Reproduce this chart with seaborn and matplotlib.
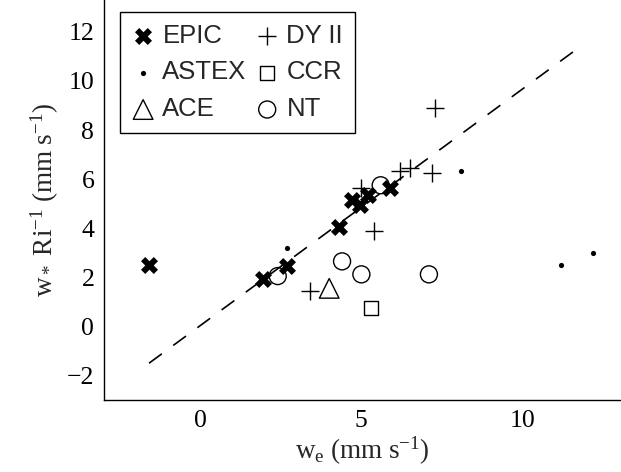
import numpy as np
import pandas as pd
import matplotlib
matplotlib.use("Agg")
import matplotlib.pyplot as plt
import seaborn as sns

# ---- data ----
epic_x = [-1.6, 1.95, 2.7, 4.3, 4.7, 4.95, 5.2, 5.9]
epic_y = [2.5, 1.95, 2.45, 4.05, 5.15, 4.95, 5.35, 5.65]
astex_x = [2.7, 8.1, 11.2, 12.2]
astex_y = [3.2, 6.35, 2.5, 3.0]
ace_x = [4.0]
ace_y = [1.55]
dy_x = [3.4, 7.3, 5.0, 6.2, 6.5, 7.2, 5.4]
dy_y = [1.45, 8.9, 5.65, 6.35, 6.45, 6.25, 3.9]
ccr_x = [5.3]
ccr_y = [0.75]
nt_x = [2.4, 4.4, 5.0, 7.1, 5.6]
nt_y = [2.05, 2.65, 2.12, 2.12, 5.75]
fit_x = [-1.6, 11.75]
fit_y = [-1.5, 11.35]

x_ticks = [0, 5, 10]
y_ticks = [-2, 0, 2, 4, 6, 8, 10, 12]

sns.set_style("white")
plt.rcParams["font.family"] = ["Liberation Serif", "DejaVu Serif"]
plt.rcParams["mathtext.fontset"] = "custom"
plt.rcParams["mathtext.rm"] = "Liberation Serif"
plt.rcParams["mathtext.it"] = "Liberation Serif:italic"

fig = plt.figure(figsize=(6.21, 4.72), dpi=100)
ax = fig.add_axes([104 / 621, (472 - 400) / 472, (621 - 104) / 621, 400 / 472])

groups = [
    ("EPIC", epic_x, epic_y, dict(marker="X", s=150, color="black", linewidth=0)),
    ("ASTEX", astex_x, astex_y, dict(marker="o", s=14, color="black", linewidth=0)),
    ("ACE", ace_x, ace_y, dict(marker="^", s=200, facecolor="none", edgecolor="black", linewidth=1.0)),
    ("DY II", dy_x, dy_y, dict(marker="+", s=170, color="black", linewidth=1.0)),
    ("CCR", ccr_x, ccr_y, dict(marker="s", s=100, facecolor="none", edgecolor="black", linewidth=1.0)),
    ("NT", nt_x, nt_y, dict(marker="o", s=150, facecolor="none", edgecolor="black", linewidth=1.0)),
]

ax.plot(fit_x, fit_y, color="black", linestyle=(0, (9.5, 8.5)), linewidth=1.2, zorder=1)

for name, xs, ys, kw in groups:
    df = pd.DataFrame({"x": xs, "y": ys})
    sns.scatterplot(data=df, x="x", y="y", ax=ax, label=name, zorder=3, **kw)

ax.set_xlim(-3, 13.07)
ax.set_ylim(-3, 13.3)
ax.set_xticks(x_ticks)
ax.set_yticks(y_ticks)
ax.tick_params(direction="in", length=4, width=0.8, labelsize=18.5, pad=7, colors="black")
for side in ["top", "right"]:
    ax.spines[side].set_visible(False)
for side in ["left", "bottom"]:
    ax.spines[side].set_color("black")
    ax.spines[side].set_linewidth(1.0)

ax.set_xlabel(r"$\mathrm{w_e\ (mm\ s^{-1})}$", fontsize=19.5, labelpad=2)
ax.set_ylabel(r"$\mathrm{w_*\ Ri^{-1}\ (mm\ s^{-1})}$", fontsize=19.5, labelpad=4)

leg = ax.legend(loc="upper left", bbox_to_anchor=(16 / 517, 1 - 12 / 400), ncol=2,
                frameon=True, fancybox=False, framealpha=1, edgecolor="black",
                prop={"family": "Liberation Sans", "size": 18.5},
                handlelength=0.9, handletextpad=0.3, columnspacing=0.35,
                labelspacing=0.5, borderpad=0.45, borderaxespad=0)
leg.get_frame().set_linewidth(1.0)

fig.savefig("out.png", dpi=100)
